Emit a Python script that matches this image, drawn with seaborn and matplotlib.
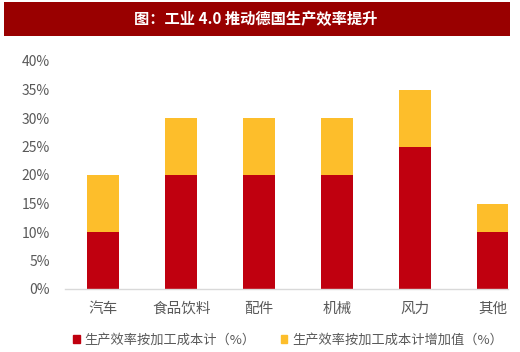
import matplotlib
matplotlib.use("Agg")
import matplotlib.pyplot as plt
import seaborn as sns
import pandas as pd
from matplotlib.patches import Rectangle
from matplotlib.ticker import FuncFormatter

categories = ["汽车", "食品饮料", "配件", "机械", "风力", "其他"]
base_values = [10, 20, 20, 20, 25, 10]
increment_values = [10, 10, 10, 10, 10, 5]
series_names = ["生产效率按加工成本计（%）", "生产效率按加工成本计增加值（%）"]
title = "图：工业 4.0 推动德国生产效率提升"
yticks = [0, 5, 10, 15, 20, 25, 30, 35, 40]

red = "#C0000F"
yellow = "#FDBE2B"
gray = "#595959"

sns.set_theme(style="white")
plt.rcParams['font.family'] = ['Noto Sans CJK SC', 'DejaVu Sans']

totals = [b + i for b, i in zip(base_values, increment_values)]
df = pd.DataFrame({"cat": categories, "base": base_values, "total": totals})

fig = plt.figure(figsize=(5.2, 3.52), dpi=100)
ax = fig.add_axes([65/520, 1-289/352, (508-65)/520, (289-61)/352])

sns.barplot(data=df, x="cat", y="total", color=yellow, width=0.41, ax=ax,
            saturation=1, label=series_names[1], linewidth=0)
sns.barplot(data=df, x="cat", y="base", color=red, width=0.41, ax=ax,
            saturation=1, label=series_names[0], linewidth=0)

ax.set_ylim(0, 40)
ax.set_xlim(-0.49, 5.19)
ax.set_yticks(yticks)
ax.yaxis.set_major_formatter(FuncFormatter(lambda v, p: f"{int(v)}%"))
ax.set_xlabel("")
ax.set_ylabel("")
for s in ["top", "right", "left"]:
    ax.spines[s].set_visible(False)
ax.spines["bottom"].set_color("#D9D9D9")
ax.spines["bottom"].set_linewidth(1.0)
ax.tick_params(axis="y", colors=gray, labelsize=10, length=0, pad=11)
ax.tick_params(axis="x", colors=gray, labelsize=10.5, length=0, pad=9)
if ax.get_legend():
    ax.get_legend().remove()

# legend
handles = [Rectangle((0, 0), 1, 1, color=red), Rectangle((0, 0), 1, 1, color=yellow)]
fig.legend(handles, series_names, loc="center", bbox_to_anchor=(288/520, 1-340/352),
           ncol=2, frameon=False, fontsize=9.5, handlelength=0.5, handleheight=0.5,
           handletextpad=0.35, columnspacing=1.9, labelcolor=gray)

# title banner
fig.patches.append(Rectangle((4/520, 1-36/352), 506/520, 34/352, transform=fig.transFigure,
                             facecolor="#990000", edgecolor="none", zorder=0))
fig.text(256/520, 1-19.5/352, title, ha="center", va="center", color="white",
         fontsize=11, fontweight="bold")

fig.savefig("out.png", dpi=100)
